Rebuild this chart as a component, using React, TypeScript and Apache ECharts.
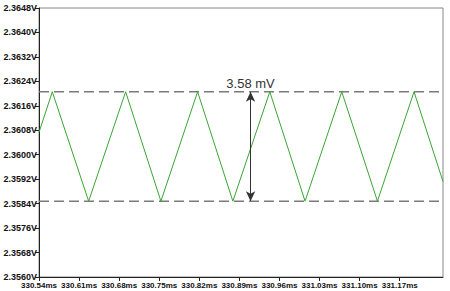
import React, { useEffect, useRef } from "react";
import * as echarts from "echarts";

const timesMs = [330.54, 330.5632, 330.6267, 330.6913, 330.7529, 330.817, 330.8786, 330.9431, 331.0047, 331.0688, 331.1311, 331.195, 331.2456];
const voltsV = [2.36073, 2.36206, 2.35848, 2.36206, 2.35848, 2.36206, 2.35848, 2.36206, 2.35848, 2.36206, 2.35848, 2.36206, 2.35912];
const peakLevel = 2.36206;
const troughLevel = 2.35848;
const arrowTime = 330.9095;
const rippleLabel = "3.58 mV";
const xTicks = [330.54, 330.61, 330.68, 330.75, 330.82, 330.89, 330.96, 331.03, 331.1, 331.17];
const xMin = 330.54;
const xMax = 331.2456;
const yMin = 2.356;
const yMax = 2.3648;
const yStep = 0.0008;

export default function App() {
  const ref = useRef<HTMLDivElement>(null);
  useEffect(() => {
    if (!ref.current) return;
    const chart = echarts.init(ref.current, null, { renderer: "svg" });
    const tickFont = { fontFamily: "Liberation Sans, Arial, sans-serif", fontSize: 9, fontWeight: "bold" as const, color: "#111" };
    const dash = { color: "#7a7a7a", type: [10, 5] as number[], width: 1.5 };
    chart.setOption({
      animation: false,
      grid: { left: 39, right: 7, top: 8, bottom: 14, show: true, borderColor: "#888", borderWidth: 1, backgroundColor: "#fff", outerBoundsMode: "none", containLabel: false },
      xAxis: {
        type: "value",
        min: xMin,
        max: xMax,
        axisLine: { show: true, lineStyle: { color: "#222", width: 1 } },
        axisTick: { show: true, length: 4, lineStyle: { color: "#222" }, customValues: xTicks },
        splitLine: { show: false },
        axisLabel: {
          ...tickFont,
          fontSize: 8,
          margin: 4,
          customValues: xTicks,
          hideOverlap: false,
          showMinLabel: true,
          showMaxLabel: true,
          formatter: (v: number) => v.toFixed(2) + "ms",
        },
      },
      yAxis: {
        type: "value",
        min: yMin,
        max: yMax,
        interval: yStep,
        axisLine: { show: true, lineStyle: { color: "#222", width: 1 } },
        axisTick: { show: true, length: 4, lineStyle: { color: "#222" } },
        splitLine: { show: false },
        axisLabel: { ...tickFont, margin: 2, showMinLabel: true, showMaxLabel: true, formatter: (v: number) => v.toFixed(4) + "V" },
      },
      series: [
        {
          type: "line",
          data: [[xMin, peakLevel], [xMax, peakLevel]],
          symbol: "none",
          silent: true,
          lineStyle: dash,
          z: 2,
        },
        {
          type: "line",
          data: [[xMin, troughLevel], [xMax, troughLevel]],
          symbol: "none",
          silent: true,
          lineStyle: dash,
          z: 2,
        },
        {
          type: "line",
          data: timesMs.map((t, i) => [t, voltsV[i]]),
          symbol: "none",
          lineStyle: { color: "#3aa535", width: 1 },
          z: 3,
        },
        {
          type: "line",
          data: [],
          z: 4,
          markLine: {
            silent: true,
            symbol: ["arrow", "arrow"],
            symbolSize: [7, 10],
            label: { show: false },
            lineStyle: { color: "#333", type: "solid", width: 1 },
            data: [[{ coord: [arrowTime, peakLevel] }, { coord: [arrowTime, troughLevel] }]],
          },
          markPoint: {
            silent: true,
            symbol: "rect",
            symbolSize: 0,
            label: { show: true, formatter: rippleLabel, color: "#333", fontSize: 13, fontFamily: "Liberation Sans, Arial, sans-serif", offset: [0, -8] },
            data: [{ coord: [arrowTime, peakLevel] }],
          },
        },
      ],
    });
    return () => chart.dispose();
  }, []);
  return <div ref={ref} style={{ position: "fixed", left: 0, top: 0, width: 450, height: 291, background: "#fff" }} />;
}
